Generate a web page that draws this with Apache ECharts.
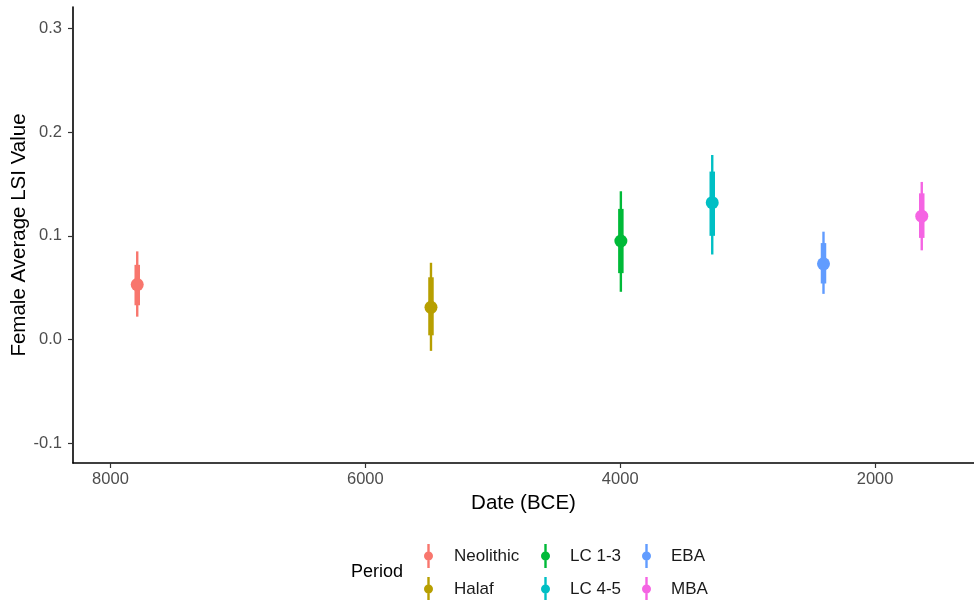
<!DOCTYPE html>
<html>
<head>
<meta charset="utf-8">
<script src="https://cdn.jsdelivr.net/npm/echarts@6/dist/echarts.min.js"></script>
<style>html,body{margin:0;padding:0;background:#fff;}#c{width:974px;height:600px;}</style>
</head>
<body>
<div id="c"></div>
<script>
const periods = ['Neolithic', 'Halaf', 'LC 1-3', 'LC 4-5', 'EBA', 'MBA'];
const dates = [7790, 5485, 3995, 3278, 2405, 1634];
const means = [0.053, 0.031, 0.095, 0.132, 0.073, 0.119];
const innerLow = [0.033, 0.004, 0.064, 0.100, 0.054, 0.098];
const innerHigh = [0.072, 0.060, 0.126, 0.162, 0.093, 0.141];
const outerLow = [0.022, -0.011, 0.046, 0.082, 0.044, 0.086];
const outerHigh = [0.085, 0.074, 0.143, 0.178, 0.104, 0.152];
const xTicks = [8000, 6000, 4000, 2000];
const yTicks = [-0.1, 0.0, 0.1, 0.2, 0.3];
const palette = ['#F8766D', '#B79F00', '#00BA38', '#00BFC4', '#619CFF', '#F564E3'];

const chart = echarts.init(document.getElementById('c'), null, {renderer: 'canvas'});

function renderItem(params, api) {
  const x = api.value(0);
  const c = api.coord([x, api.value(1)]);
  const k1 = api.coord([x, api.value(2)]);
  const k2 = api.coord([x, api.value(3)]);
  const t1 = api.coord([x, api.value(4)]);
  const t2 = api.coord([x, api.value(5)]);
  const color = api.visual('color');
  return {
    type: 'group',
    children: [
      {type: 'line', shape: {x1: c[0], y1: t1[1], x2: c[0], y2: t2[1]}, style: {stroke: color, lineWidth: 2.4}},
      {type: 'line', shape: {x1: c[0], y1: k1[1], x2: c[0], y2: k2[1]}, style: {stroke: color, lineWidth: 5.5}},
      {type: 'circle', shape: {cx: c[0], cy: c[1], r: 6.5}, style: {fill: color}}
    ]
  };
}

const series = periods.map((p, i) => ({
  name: p,
  type: 'custom',
  renderItem: renderItem,
  itemStyle: {color: palette[i]},
  encode: {x: 0, y: [1, 2, 3, 4, 5]},
  data: [[dates[i], means[i], innerLow[i], innerHigh[i], outerLow[i], outerHigh[i]]]
}));

const legendIcon = 'path://M3.3,0h2.4v24h-2.4z M0,12a4.5,4.5 0 1,1 9,0a4.5,4.5 0 1,1 -9,0z';
const legendLefts = [424, 424, 541, 541, 642, 642];
const legendTops = [544, 577, 544, 577, 544, 577];
const legendPads = [16, 16, 15, 15, 15, 15];
const legends = periods.map((p, i) => ({
  orient: 'vertical', left: legendLefts[i], top: legendTops[i], data: [p],
  icon: legendIcon, itemWidth: 9, itemHeight: 24, padding: 0,
  selectedMode: false,
  textStyle: {fontSize: 17, color: '#1a1a1a', fontFamily: 'Liberation Sans', padding: [0, 0, 0, legendPads[i]]}
}));

const option = {
  animation: false,
  backgroundColor: '#fff',
  grid: {left: 73, right: 0, top: 7, bottom: 137, containLabel: false, outerBoundsMode: 'none'},
  xAxis: {
    type: 'value', inverse: true, min: 1224, max: 8294,
    name: 'Date (BCE)', nameLocation: 'middle', nameGap: 30, nameMoveOverlap: false,
    nameTextStyle: {fontSize: 20.5, color: '#000', fontFamily: 'Liberation Sans'},
    splitLine: {show: false},
    axisLine: {show: true, onZero: false, lineStyle: {color: '#000', width: 1.6}},
    axisTick: {show: true, length: 5, customValues: xTicks, lineStyle: {color: '#333', width: 1.2}},
    axisLabel: {customValues: xTicks, fontSize: 16.5, color: '#4d4d4d', margin: 8, fontFamily: 'Liberation Sans',
      formatter: v => String(v)}
  },
  yAxis: {
    type: 'value', min: -0.1192, max: 0.3208,
    name: 'Female Average LSI Value', nameLocation: 'middle', nameGap: 43, nameMoveOverlap: false,
    nameTextStyle: {fontSize: 20.5, color: '#000', fontFamily: 'Liberation Sans'},
    splitLine: {show: false},
    axisLine: {show: true, onZero: false, lineStyle: {color: '#000', width: 1.6}},
    axisTick: {show: true, length: 5, customValues: yTicks, lineStyle: {color: '#333', width: 1.2}},
    axisLabel: {customValues: yTicks, fontSize: 16.5, color: '#4d4d4d', margin: 11, fontFamily: 'Liberation Sans',
      formatter: v => v.toFixed(1)}
  },
  legend: legends,
  graphic: [{type: 'text', left: 351, top: 563, style: {text: 'Period', fontSize: 18, fill: '#000', fontFamily: 'Liberation Sans'}}],
  series: series
};
chart.setOption(option);
</script>
</body>
</html>
